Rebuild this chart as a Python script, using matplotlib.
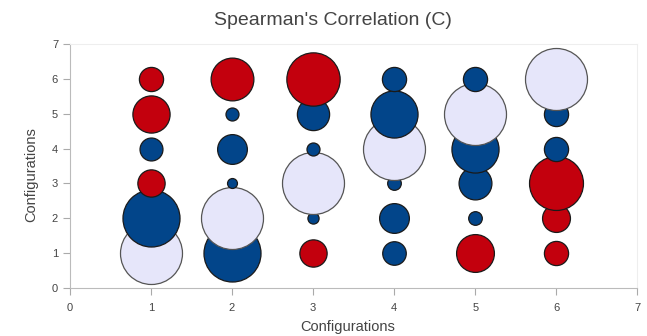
import numpy as np
import matplotlib.pyplot as plt

plt.rcParams['font.family'] = ['Liberation Sans', 'DejaVu Sans']

configs = [1, 2, 3, 4, 5, 6]

# Spearman correlation read from the bubbles, one list per x configuration (y = 1..6)
corr_c1 = [1.00, 0.92, -0.44, 0.37, -0.60, -0.39]
corr_c2 = [0.92, 1.00, 0.16, 0.48, 0.21, -0.69]
corr_c3 = [-0.44, 0.18, 1.00, 0.21, 0.52, -0.86]
corr_c4 = [0.38, 0.48, 0.22, 1.00, 0.76, 0.39]
corr_c5 = [-0.61, 0.22, 0.53, 0.76, 1.00, 0.39]
corr_c6 = [-0.39, -0.45, -0.87, 0.39, 0.39, 1.00]

corr = [corr_c1, corr_c2, corr_c3, corr_c4, corr_c5, corr_c6]

pos_color = '#02458A'
neg_color = '#C3000D'
diag_color = '#E6E6FA'

fig = plt.figure(figsize=(6.47, 3.36), dpi=100)
ax = fig.add_axes([0.108, 0.143, 0.877, 0.726])

# draw lower rows first so higher rows sit on top
for yi, yc in enumerate(configs):
    for xi, xc in enumerate(configs):
        r = corr[xi][yi]
        if xc == yc:
            fc, ec = diag_color, '#555555'
        elif r >= 0:
            fc, ec = pos_color, '#1a1a1a'
        else:
            fc, ec = neg_color, '#1a1a1a'
        d = abs(r) * 62 * 0.72
        ax.scatter([xc], [yc], s=d ** 2, c=fc, edgecolors=ec, linewidths=0.9, zorder=3)

ax.set_xlim(0, 7)
ax.set_ylim(0, 7)
ax.set_xticks(range(8))
ax.set_yticks(range(8))
ax.tick_params(colors='#aaaaaa', labelcolor='#444444', labelsize=8, length=5, width=0.8)
ax.tick_params(axis='x', pad=6)

for s in ['left', 'bottom']:
    ax.spines[s].set_color('#bbbbbb')
for s in ['top', 'right']:
    ax.spines[s].set_color('#eeeeee')

fig.text(0.515, 0.926, "Spearman's Correlation (C)", fontsize=14, color='#444444',
         ha='center', va='baseline')
fig.text(0.538, 0.027, 'Configurations', fontsize=10.5, color='#444444',
         ha='center', va='center')
fig.text(0.048, 0.479, 'Configurations', fontsize=10.5, color='#444444',
         ha='center', va='center', rotation=90)

fig.savefig('out.png', dpi=100)
